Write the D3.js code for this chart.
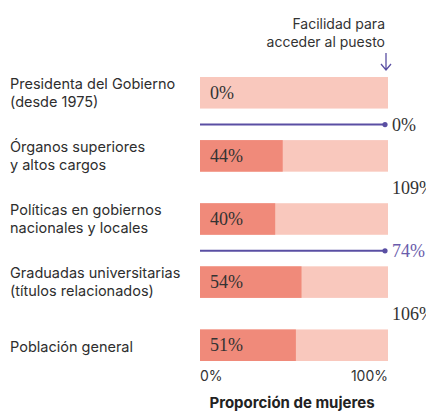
<!DOCTYPE html>
<html>
<head>
<meta charset="utf-8">
<script src="https://cdn.jsdelivr.net/npm/d3@7"></script>
<style>
  body { margin: 0; background: #fff; }
  svg { display: block; }
</style>
</head>
<body>
<div class="chart"></div>
<script>
// categories (label lines) and share of women
const categories = [
    ["Presidenta del Gobierno", "(desde 1975)"],
    ["Órganos superiores", "y altos cargos"],
    ["Políticas en gobiernos", "nacionales y locales"],
    ["Graduadas universitarias", "(títulos relacionados)"],
    ["Población general"]
];
const womenShare = [0, 44, 40, 54, 51];
// "facilidad para acceder al puesto" between rows
const access = [0, 109, 74, 106];
const axisTicks = [0, 100];

const width = 426, height = 412;
const svg = d3.select(".chart").append("svg")
    .attr("width", width)
    .attr("height", height);

const x = d3.scaleLinear().domain([0, 100]).range([200, 388]);
const y = d3.scaleBand()
    .domain(d3.range(categories.length))
    .range([77, 361])
    .paddingInner(0.5)
    .paddingOuter(0);

const sans = "Inter, 'Noto Sans', sans-serif";
const serif = "'Liberation Serif', 'DejaVu Serif', serif";

// header
const head = svg.append("text")
    .attr("text-anchor", "end")
    .attr("font-family", sans)
    .attr("font-size", 14)
    .attr("fill", "#333");
head.append("tspan").attr("x", 385).attr("y", 29).text("Facilidad para");
head.append("tspan").attr("x", 385).attr("y", 47).text("acceder al puesto");

svg.append("path")
    .attr("d", "M386,53 V70 M381,64 L386,70 L391,64")
    .attr("fill", "none")
    .attr("stroke", "#5a4fa3")
    .attr("stroke-width", 1.3);

// labels
categories.forEach((lines, i) => {
    const cy = y(i) + y.bandwidth() / 2;
    const t = svg.append("text")
        .attr("font-family", sans)
        .attr("font-size", 14.5)
        .attr("fill", "#2e2e2e");
    if (lines.length === 1) {
        t.append("tspan").attr("x", 10).attr("y", cy + 7).text(lines[0]);
    } else {
        t.append("tspan").attr("x", 10).attr("y", cy - 4).text(lines[0]);
        t.append("tspan").attr("x", 10).attr("y", cy + 14).text(lines[1]);
    }
});

// background bars
svg.selectAll(".bg").data(womenShare).join("rect")
    .attr("x", x(0))
    .attr("y", (d, i) => y(i))
    .attr("width", x(100) - x(0))
    .attr("height", y.bandwidth())
    .attr("fill", "#f9c8bd");

svg.selectAll(".fg").data(womenShare).join("rect")
    .attr("x", x(0))
    .attr("y", (d, i) => y(i))
    .attr("width", d => x(d) - x(0))
    .attr("height", y.bandwidth())
    .attr("fill", "#f08a7a");

svg.selectAll(".val").data(womenShare).join("text")
    .attr("x", x(0) + 10)
    .attr("y", (d, i) => y(i) + y.bandwidth() / 2 + 6)
    .attr("font-family", serif)
    .attr("font-size", 18)
    .attr("fill", "#333")
    .text(d => d + "%");

// access rows
access.forEach((v, i) => {
    const ly = y(i) + y.bandwidth() + 16;
    if (v < 100) {
        svg.append("line")
            .attr("x1", x(0)).attr("x2", x(100) - 3)
            .attr("y1", ly).attr("y2", ly)
            .attr("stroke", "#5a4fa3")
            .attr("stroke-width", 2);
        svg.append("circle")
            .attr("cx", x(100) - 3).attr("cy", ly).attr("r", 2.6)
            .attr("fill", "#5a4fa3");
    }
    svg.append("text")
        .attr("x", x(100) + 4)
        .attr("y", ly + 6)
        .attr("font-family", serif)
        .attr("font-size", 18)
        .attr("fill", v > 0 && v < 100 ? "#6a5cab" : "#333")
        .text(v + "%");
});

// axis
svg.selectAll(".tick").data(axisTicks).join("text")
    .attr("x", d => x(d))
    .attr("y", 381)
    .attr("text-anchor", d => d === 0 ? "start" : "end")
    .attr("font-family", sans)
    .attr("font-size", 14)
    .attr("fill", "#333")
    .text(d => d + "%");

svg.append("text")
    .attr("x", 292)
    .attr("y", 408)
    .attr("text-anchor", "middle")
    .attr("font-family", sans)
    .attr("font-size", 15)
    .attr("font-weight", "bold")
    .attr("fill", "#222")
    .text("Proporción de mujeres");
</script>
</body>
</html>
